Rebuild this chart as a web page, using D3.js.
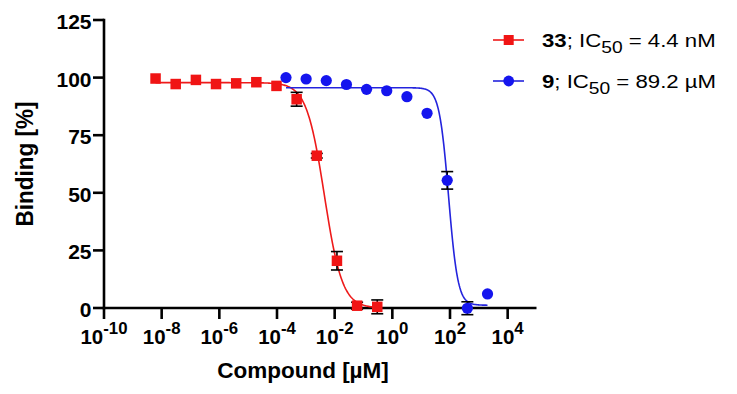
<!DOCTYPE html>
<html>
<head>
<meta charset="utf-8">
<script src="https://cdn.jsdelivr.net/npm/d3@7"></script>
<style>
  html, body { margin: 0; padding: 0; background: #fff; }
  svg text { font-family: "Liberation Sans", Arial, Helvetica, sans-serif; }
</style>
</head>
<body>
<svg id="chart" width="737" height="394"></svg>
<script>
// ---------- data ----------
const conc33 = [6.14e-9, 3.07e-8, 1.54e-7, 7.68e-7, 3.84e-6, 1.92e-5, 9.6e-5, 4.8e-4, 2.4e-3, 0.012, 0.06, 0.3];
const bind33 = [99.6, 97.2, 99.0, 97.2, 97.5, 98.0, 96.4, 90.6, 66.1, 20.5, 1.0, 0.5];
const err33  = [0, 0, 0, 0, 0, 0, 0, 3.0, 1.0, 4.0, 1.5, 3.0];

const conc9 = [2.048e-4, 1.024e-3, 5.12e-3, 0.0256, 0.128, 0.64, 3.2, 16, 80, 400, 2000];
const bind9 = [100.0, 99.4, 98.7, 97.0, 94.9, 94.3, 91.7, 84.5, 55.4, -0.1, 6.1];
const err9  = [0, 0, 0, 0, 0, 0, 0, 0, 3.8, 2.8, 0];

// fitted 4-parameter logistic curves: [compound 33, compound 9]
const fitTop    = [97.8, 95.6];
const fitBottom = [0.0, 1.2];
const fitIC50   = [0.0044, 89.2];   // µM
const fitHill   = [1.4, 2.7];

const yTicks = [0, 25, 50, 75, 100, 125];
const xTickExps = [-10, -8, -6, -4, -2, 0, 2, 4];
const legendNames = ["33", "9"];
const legendIC50 = ["4.4 nM", "89.2 µM"];
const colors = ["#f01414", "#1515ee"];
const curveColors = ["#ee1a1a", "#2424dd"];

// ---------- scales ----------
const svg = d3.select("#chart");
const x = d3.scaleLog().domain([1e-10, 1e5]).range([104, 536.5]);
const y = d3.scaleLinear().domain([0, 125]).range([308, 20]);

// ---------- axes ----------
const axisG = svg.append("g");
axisG.append("line").attr("x1", x(1e-10)).attr("x2", x(1e-10))
  .attr("y1", y(125) - 1.2).attr("y2", y(0) + 1.2)
  .attr("stroke", "#000").attr("stroke-width", 2.6);
axisG.append("line").attr("x1", x(1e-10) - 1.2).attr("x2", x(1e5))
  .attr("y1", y(0)).attr("y2", y(0))
  .attr("stroke", "#000").attr("stroke-width", 2.6);

yTicks.forEach(t => {
  axisG.append("line").attr("x1", x(1e-10) - 11).attr("x2", x(1e-10))
    .attr("y1", y(t)).attr("y2", y(t)).attr("stroke", "#000").attr("stroke-width", 2.6);
  axisG.append("text").attr("x", x(1e-10) - 12.5).attr("y", y(t) + 9)
    .attr("text-anchor", "end").attr("font-size", 21).attr("font-weight", "bold")
    .attr("fill", "#000").text(t);
});

xTickExps.forEach(e => {
  const xv = x(Math.pow(10, e));
  axisG.append("line").attr("x1", xv).attr("x2", xv)
    .attr("y1", y(0)).attr("y2", y(0) + 11).attr("stroke", "#000").attr("stroke-width", 2.6);
  const t = axisG.append("text").attr("transform", `translate(${xv},343.5) scale(1.05,1)`)
    .attr("text-anchor", "middle").attr("font-weight", "bold").attr("fill", "#000");
  t.append("tspan").attr("font-size", 19.5).text("10");
  t.append("tspan").attr("font-size", 16).attr("dy", -9.5).text(e < 0 ? "-" + (-e) : String(e));
});

svg.append("text").attr("x", 303).attr("y", 377.5).attr("text-anchor", "middle")
  .attr("font-size", 22.5).attr("font-weight", "bold").attr("fill", "#000")
  .text("Compound [µM]");
svg.append("text").attr("transform", "translate(33,164) rotate(-90) scale(1,1.08)")
  .attr("text-anchor", "middle").attr("font-size", 22.5).attr("font-weight", "bold")
  .attr("fill", "#000").text("Binding [%]");

// ---------- fitted curves ----------
function fitCurve(i, lo, hi) {
  const pts = [];
  const a = Math.log10(lo), b = Math.log10(hi);
  for (let k = 0; k <= 300; k++) {
    const lx = a + (b - a) * k / 300;
    const c = Math.pow(10, lx);
    const v = fitBottom[i] + (fitTop[i] - fitBottom[i]) / (1 + Math.pow(c / fitIC50[i], fitHill[i]));
    pts.push([c, v]);
  }
  return pts;
}
const line = d3.line().x(d => x(d[0])).y(d => y(d[1]));
const series = [
  { c: conc33, v: bind33, e: err33 },
  { c: conc9,  v: bind9,  e: err9 }
];
series.forEach((s, i) => {
  svg.append("path").datum(fitCurve(i, d3.min(s.c), d3.max(s.c)))
    .attr("d", line).attr("fill", "none").attr("stroke", curveColors[i]).attr("stroke-width", 1.6);
});

// ---------- error bars ----------
series.forEach((s, i) => {
  s.c.forEach((c, j) => {
    const err = s.e[j];
    if (!err) return;
    const xv = x(c), y1 = y(s.v[j] + err), y2 = y(s.v[j] - err);
    const g = svg.append("g").attr("stroke", "#000").attr("stroke-width", 1.6);
    g.append("line").attr("x1", xv).attr("x2", xv).attr("y1", y1).attr("y2", y2);
    g.append("line").attr("x1", xv - 6).attr("x2", xv + 6).attr("y1", y1).attr("y2", y1);
    g.append("line").attr("x1", xv - 6).attr("x2", xv + 6).attr("y1", y2).attr("y2", y2);
  });
});

// ---------- markers ----------
const sq = 10.5;
svg.append("g").selectAll("rect").data(conc33.map((c, j) => [c, bind33[j]]))
  .join("rect").attr("x", d => x(d[0]) - sq / 2).attr("y", d => y(d[1]) - sq / 2)
  .attr("width", sq).attr("height", sq).attr("fill", colors[0]);
svg.append("g").selectAll("circle").data(conc9.map((c, j) => [c, bind9[j]]))
  .join("circle").attr("cx", d => x(d[0])).attr("cy", d => y(d[1]))
  .attr("r", 5.6).attr("fill", colors[1]);

// ---------- legend ----------
const legY = [40, 81];
legendNames.forEach((name, i) => {
  const g = svg.append("g");
  g.append("line").attr("x1", 493).attr("x2", 524).attr("y1", legY[i]).attr("y2", legY[i])
    .attr("stroke", curveColors[i]).attr("stroke-width", 1.6);
  if (i === 0) {
    g.append("rect").attr("x", 508.7 - 5).attr("y", legY[i] - 5).attr("width", 10).attr("height", 10)
      .attr("fill", colors[i]);
  } else {
    g.append("circle").attr("cx", 508.7).attr("cy", legY[i]).attr("r", 5.4).attr("fill", colors[i]);
  }
  const t = g.append("text").attr("transform", `translate(542,${legY[i] + 7}) scale(1.2,1)`)
    .attr("font-size", 18.5).attr("fill", "#000");
  t.append("tspan").attr("font-weight", "bold").text(name);
  t.append("tspan").text("; IC");
  t.append("tspan").attr("font-size", 16).attr("dy", 5.5).text("50");
  t.append("tspan").attr("dy", -5.5).text(" = " + legendIC50[i]);
});
</script>
</body>
</html>
